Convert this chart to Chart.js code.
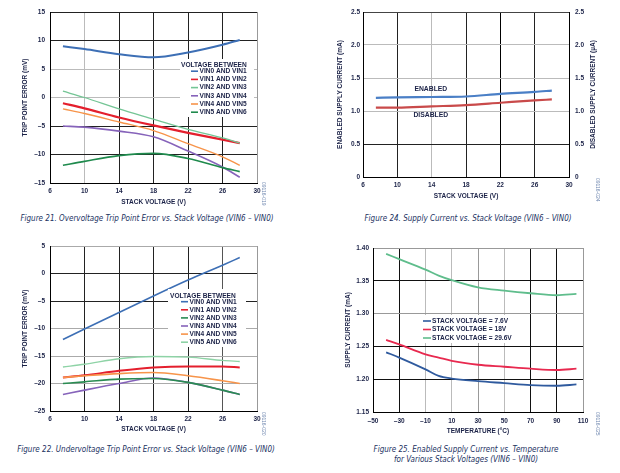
<!DOCTYPE html>
<html><head><meta charset="utf-8">
<script src="https://cdn.jsdelivr.net/npm/chart.js@4.4.0/dist/chart.umd.min.js"></script>
<style>
body{margin:0;background:#fff;width:620px;height:473px;position:relative;overflow:hidden}
canvas{position:absolute}
.cap{position:absolute;font:italic 8px 'DejaVu Sans Condensed','DejaVu Sans',sans-serif;color:#22325f;white-space:nowrap;text-align:center;line-height:10px}
.side{position:absolute;font:5px 'Liberation Sans',sans-serif;color:#7088b0;transform:rotate(90deg);transform-origin:left top;white-space:nowrap}
</style></head><body>
<canvas id="c1" width="300" height="210" style="left:0;top:0"></canvas>
<canvas id="c2" width="300" height="210" style="left:310px;top:0"></canvas>
<canvas id="c3" width="300" height="210" style="left:0;top:230px"></canvas>
<canvas id="c4" width="300" height="210" style="left:310px;top:230px"></canvas>
<div class="cap" style="left:0;top:214px;width:294px">Figure 21. Overvoltage Trip Point Error vs. Stack Voltage (VIN6 – VIN0)</div>
<div class="cap" style="left:318px;top:214px;width:300px">Figure 24. Supply Current vs. Stack Voltage (VIN6 – VIN0)</div>
<div class="cap" style="left:0;top:445px;width:292px">Figure 22. Undervoltage Trip Point Error vs. Stack Voltage (VIN6 – VIN0)</div>
<div class="cap" style="left:316px;top:445px;width:300px">Figure 25. Enabled Supply Current vs. Temperature<br>for Various Stack Voltages (VIN6 – VIN0)</div>
<div class="side" style="left:267px;top:182px">09116-019</div>
<div class="side" style="left:601px;top:178px">09116-024</div>
<div class="side" style="left:267px;top:412px">09116-020</div>
<div class="side" style="left:601px;top:412px">09116-025</div>
<script>
// Figure 21 - overvoltage trip point error
var ovX=[7.5,10,14,18,22,26,28];
var ov01=[9,8.5,7.6,7.05,7.9,9.25,10.1];
var ov12=[-1,-1.9,-3.5,-4.9,-6.2,-7.4,-8];
var ov23=[1.1,0,-2,-3.8,-5.6,-7.1,-8];
var ov34=[-5,-5.2,-5.9,-6.9,-9.4,-12.2,-14];
var ov45=[-2,-2.8,-4.3,-5.8,-8.1,-10.4,-11.9];
var ov56=[-11.9,-11.2,-10.2,-9.8,-10.7,-12.3,-13];
// Figure 22 - undervoltage trip point error
var uvX=[7.5,10,14,18,22,26,28];
var uv01=[-12,-10.1,-7.1,-4.1,-1.2,1.5,2.9];
var uv12=[-18.9,-18.5,-17.7,-17.1,-16.9,-16.9,-17.1];
var uv23=[-20,-19.7,-19.2,-19.1,-19.8,-21.2,-22];
var uv34=[-22,-21.2,-20,-19,-19.8,-21.2,-22];
var uv45=[-18.9,-18.6,-18.2,-18,-18.6,-19.5,-20];
var uv56=[-17,-16.5,-15.5,-15.1,-15.2,-15.8,-16];
var pairLabels=['VIN0 AND VIN1','VIN1 AND VIN2','VIN2 AND VIN3','VIN3 AND VIN4','VIN4 AND VIN5','VIN5 AND VIN6'];
// Figure 24 - supply current vs stack voltage
var scX=[7.5,10,14,18,22,26,28];
var scEnabled=[1.2,1.205,1.212,1.22,1.26,1.29,1.31];
var scDisabled=[1.05,1.05,1.07,1.09,1.125,1.16,1.175];
// Figure 25 - enabled supply current vs temperature
var tX=[-40,-30,-10,0,10,30,50,70,90,105];
var t76=[1.241,1.233,1.215,1.205,1.201,1.197,1.194,1.191,1.19,1.192];
var t18=[1.26,1.253,1.238,1.233,1.228,1.222,1.219,1.216,1.214,1.216];
var t296=[1.391,1.383,1.367,1.358,1.351,1.34,1.335,1.331,1.328,1.33];
var tLabels=['STACK VOLTAGE = 7.6V','STACK VOLTAGE = 18V','STACK VOLTAGE = 29.6V'];

var TXT='#1b2247';
var FAM="'Liberation Sans', Arial, sans-serif";
var FT={family:FAM,size:6.5,weight:'bold'};
var LFONT="bold 6.6px "+FAM;

function pts(xs,ys){
  var out=[];
  for(var i=0;i<xs.length;i++) out.push({x:xs[i],y:ys[i]});
  return out;
}
function ln(label,xs,ys,col,w,axis){
  var d={label:label,data:pts(xs,ys),borderColor:col,backgroundColor:col,borderWidth:w,pointRadius:0,
    tension:0.4,cubicInterpolationMode:'monotone',fill:false};
  if(axis) d.yAxisID=axis;
  return d;
}
function dash(v){return v<0?'\u2013'+Math.abs(v):''+v;}
function gridCol(cols){return function(c){return cols[c.index]||'#bbb';};}
function xAxis(min,max,step,cols,title,tp,ttp,h,fmt){
  return {type:'linear',min:min,max:max,
    ticks:{stepSize:step,padding:tp,color:TXT,font:FT,maxRotation:0,autoSkip:false,callback:fmt||function(v){return dash(v);}},
    grid:{color:gridCol(cols),drawTicks:false},
    border:{color:'#000'},
    title:{display:true,text:title,color:TXT,font:FT,padding:{top:0,bottom:ttp}},
    afterFit:function(s){s.height=h;}};
}
function yAxis(min,max,step,cols,title,tp,ttp,w,fmt,pos){
  return {type:'linear',position:pos||'left',min:min,max:max,
    ticks:{stepSize:step,padding:tp,color:TXT,font:FT,callback:fmt||function(v){return dash(v);}},
    grid:cols?{color:gridCol(cols),drawTicks:false}:{display:false,drawTicks:false},
    border:{color:'#000'},
    title:{display:!!title,text:title||'',color:TXT,font:FT,padding:{top:ttp,bottom:0}},
    afterFit:function(s){s.width=w;}};
}

var boxLegend={id:'boxLegend',afterDatasetsDraw:function(chart,args,o){
  if(!o||!o.box) return;
  var ctx=chart.ctx;
  ctx.save();
  ctx.fillStyle='#fff';
  ctx.fillRect(o.box[0],o.box[1],o.box[2],o.box[3]);
  ctx.font=LFONT;ctx.fillStyle=TXT;ctx.textBaseline='middle';
  if(o.title){ctx.textAlign='left';ctx.fillText(o.title,o.titleX,o.titleY);}
  var ds=chart.data.datasets;
  for(var i=0;i<ds.length;i++){
    var k=o.order?o.order[i]:i;
    var y=o.rowY+i*o.rowH;
    ctx.strokeStyle=ds[k].borderColor;ctx.lineWidth=1.6;
    ctx.beginPath();ctx.moveTo(o.sx0,y);ctx.lineTo(o.sx1,y);ctx.stroke();
    ctx.fillStyle=TXT;ctx.textAlign='left';
    ctx.fillText(ds[k].label,o.tx,y);
  }
  ctx.restore();
}};
// text notes at data coordinates + a bottom-to-top title for the right axis
var notes={id:'notes',afterDraw:function(chart,args,o){
  if(!o) return;
  var ctx=chart.ctx,sx=chart.scales.x,sy=chart.scales.y,a=chart.chartArea;
  ctx.save();
  ctx.fillStyle=TXT;ctx.textAlign='center';ctx.textBaseline='middle';
  ctx.font="bold 6.8px "+FAM;
  (o.items||[]).forEach(function(it){ctx.fillText(it.t,sx.getPixelForValue(it.x),sy.getPixelForValue(it.y));});
  if(o.rightTitle){
    ctx.font="bold 6.5px "+FAM;
    ctx.translate(o.rightX,(a.top+a.bottom)/2);
    ctx.rotate(-Math.PI/2);
    ctx.fillText(o.rightTitle,0,0);
  }
  ctx.restore();
}};

Chart.defaults.animation=false;
var base={responsive:false,animation:false,events:[],plugins:{legend:{display:false},tooltip:{enabled:false}}};
function opts(o){var r=Object.assign({},base,o);r.plugins=Object.assign({},base.plugins,o.plugins||{});return r;}
function fmt1(v){return v===0?'0':v.toFixed(1);}

new Chart(document.getElementById('c1'),{type:'line',
  data:{datasets:[
    ln(pairLabels[5],ovX,ov56,'#1f8a4d',1.6),
    ln(pairLabels[4],ovX,ov45,'#f7944a',1.4),
    ln(pairLabels[3],ovX,ov34,'#8663ba',1.6),
    ln(pairLabels[2],ovX,ov23,'#74c595',1.3),
    ln(pairLabels[1],ovX,ov12,'#e41f2d',2.2),
    ln(pairLabels[0],ovX,ov01,'#3d6fb5',2)
  ]},
  options:opts({layout:{padding:{top:12,right:43,left:0,bottom:0}},
    scales:{x:xAxis(6,30,4,['#000','#bbb','#222','#222','#222','#222','#999'],'STACK VOLTAGE (V)',4,4.2,27),
      y:yAxis(-15,15,5,['#000','#222','#222','#bbb','#bbb','#222','#222'],'TRIP POINT ERROR (mV)',5,21,50)},
    plugins:{boxLegend:{box:[180,59,74,58],title:'VOLTAGE BETWEEN',titleX:181,titleY:64.7,rowY:71.2,rowH:8.2,
      sx0:191,sx1:198,tx:199.5,order:[5,4,3,2,1,0]}}}),
  plugins:[boxLegend]});

new Chart(document.getElementById('c2'),{type:'line',
  data:{datasets:[
    ln('ENABLED',scX,scEnabled,'#4a7fc6',2.2,'y'),
    ln('DISABLED',scX,scDisabled,'#c94a4a',2.2,'y2')
  ]},
  options:opts({layout:{padding:{top:12,right:0,left:0,bottom:0}},
    scales:{x:xAxis(6,30,4,['#000','#222','#bbb','#222','#000','#222','#444'],'STACK VOLTAGE (V)',4,10.2,33),
      y:yAxis(0,2.5,0.5,['#000','#222','#bbb','#bbb','#bbb','#444'],'ENABLED SUPPLY CURRENT (mA)',3,26,53,fmt1),
      y2:yAxis(0,2.5,0.5,null,null,6,0,41,fmt1,'right')},
    plugins:{notes:{items:[{t:'ENABLED',x:13.9,y:1.33},{t:'DISABLED',x:13.9,y:0.94}],
      rightTitle:'DISABLED SUPPLY CURRENT (\u00b5A)',rightX:283}}}),
  plugins:[notes]});

new Chart(document.getElementById('c3'),{type:'line',
  data:{datasets:[
    ln(pairLabels[5],uvX,uv56,'#8ed3a6',1.4),
    ln(pairLabels[4],uvX,uv45,'#f7944a',1.6),
    ln(pairLabels[2],uvX,uv23,'#2a8c52',1.6),
    ln(pairLabels[3],uvX,uv34,'#8663ba',1.6),
    ln(pairLabels[1],uvX,uv12,'#e41f2d',2),
    ln(pairLabels[0],uvX,uv01,'#3d6fb5',1.6)
  ]},
  options:opts({layout:{padding:{top:16,right:43,left:0,bottom:0}},
    scales:{x:xAxis(6,30,4,['#000','#222','#222','#222','#222','#555','#999'],'STACK VOLTAGE (V)',4.2,7.2,29),
      y:yAxis(-25,5,5,['#000','#aaa','#aaa','#aaa','#222','#222','#aaa'],'TRIP POINT ERROR (mV)',5,21,50)},
    plugins:{boxLegend:{box:[168,59,78,58],title:'VOLTAGE BETWEEN',titleX:170,titleY:66,rowY:71.7,rowH:8.1,
      sx0:181,sx1:188,tx:189.5,order:[5,4,2,3,1,0]}}}),
  plugins:[boxLegend]});

new Chart(document.getElementById('c4'),{type:'line',
  data:{datasets:[
    ln(tLabels[0],tX,t76,'#2f5a9e',1.8),
    ln(tLabels[1],tX,t18,'#e8294f',1.8),
    ln(tLabels[2],tX,t296,'#5fbd8c',1.8)
  ]},
  options:opts({layout:{padding:{top:18,right:27,left:0,bottom:0}},
    scales:{x:xAxis(-50,110,20,['#000','#111','#bbb','#bbb','#999','#bbb','#111','#111','#999'],'TEMPERATURE (\u00b0C)',5.2,5.2,28),
      y:yAxis(1.15,1.4,0.05,['#000','#111','#111','#999','#111','#999'],'SUPPLY CURRENT (mA)',4,34,63,function(v){return v.toFixed(2);})},
    plugins:{boxLegend:{box:[109,85,102,28],rowY:91,rowH:8.5,sx0:113,sx1:121,tx:122}}}),
  plugins:[boxLegend]});
</script>
</body></html>
